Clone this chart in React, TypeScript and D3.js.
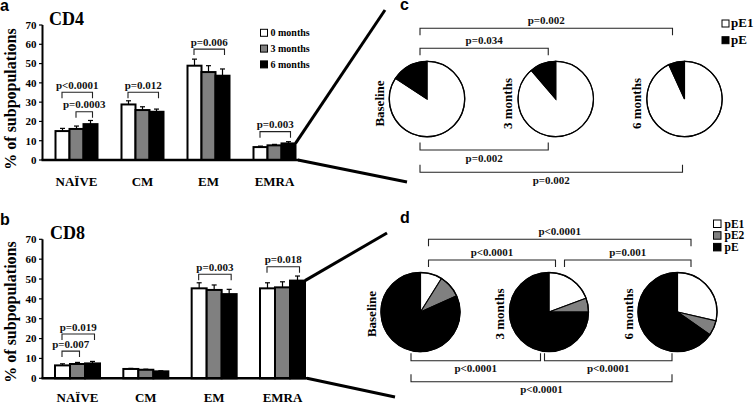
import React from "react";
import * as d3 from "d3";

// ---------- DATA ----------
const categories = ["NAÏVE", "CM", "EM", "EMRA"];
const series = ["0 months", "3 months", "6 months"];
const yTicks = [0, 10, 20, 30, 40, 50, 60, 70];

const cd4Values = [
  [15.0, 16.1, 18.6],
  [28.8, 25.9, 25.0],
  [48.9, 45.6, 43.7],
  [6.7, 7.6, 8.6],
];
const cd4Errors = [
  [1.4, 1.5, 1.9],
  [1.9, 1.7, 1.4],
  [3.4, 3.3, 3.5],
  [0.5, 0.5, 0.9],
];
const cd8Values = [
  [6.5, 7.2, 7.5],
  [4.7, 4.3, 3.5],
  [45.3, 44.5, 42.4],
  [45.3, 45.8, 49.2],
];
const cd8Errors = [
  [0.8, 0.8, 1.0],
  [0.3, 0.3, 0.3],
  [2.8, 2.5, 2.4],
  [2.8, 2.8, 2.3],
];

// significance brackets for bar panels: level in data units
const cd4Brackets = [
  { cat: 0, from: 0, to: 2, label: "p<0.0001", level: 35.1 },
  { cat: 0, from: 1, to: 2, label: "p=0.0003", level: 25.0 },
  { cat: 1, from: 0, to: 2, label: "p=0.012", level: 35.1 },
  { cat: 2, from: 0, to: 2, label: "p=0.006", level: 57.5 },
  { cat: 3, from: 0, to: 2, label: "p=0.003", level: 14.7 },
];
const cd8Brackets = [
  { cat: 0, from: 0, to: 2, label: "p=0.019", level: 22.3 },
  { cat: 0, from: 0, to: 1, label: "p=0.007", level: 13.7 },
  { cat: 2, from: 0, to: 2, label: "p=0.003", level: 52.4 },
  { cat: 3, from: 0, to: 2, label: "p=0.018", level: 56.2 },
];

const timepoints = ["Baseline", "3 months", "6 months"];
const cSeries = ["pE1", "pE"];
const cValues = [
  [84.2, 15.8],
  [88.7, 11.3],
  [93.2, 6.8],
];
const dSeries = ["pE1", "pE2", "pE"];
const dValues = [
  [8.9, 9.4, 81.7],
  [19.3, 5.7, 75.0],
  [28.6, 6.1, 65.3],
];
// pie brackets: from/to timepoint index, side, row
const cBrackets = [
  { from: 0, to: 2, label: "p=0.002", side: "top", row: 0 },
  { from: 0, to: 1, label: "p=0.034", side: "top", row: 1 },
  { from: 0, to: 1, label: "p=0.002", side: "bottom", row: 0 },
  { from: 0, to: 2, label: "p=0.002", side: "bottom", row: 1 },
];
const dBrackets = [
  { from: 0, to: 2, label: "p<0.0001", side: "top", row: 0 },
  { from: 0, to: 1, label: "p<0.0001", side: "top", row: 1 },
  { from: 1, to: 2, label: "p=0.001", side: "top", row: 1 },
  { from: 0, to: 1, label: "p<0.0001", side: "bottom", row: 0 },
  { from: 1, to: 2, label: "p<0.0001", side: "bottom", row: 0 },
  { from: 0, to: 2, label: "p<0.0001", side: "bottom", row: 1 },
];

// ---------- STYLE / LAYOUT ----------
const SERIF = "'Liberation Serif', 'Times New Roman', serif";
const SANS = "'Liberation Sans', Arial, sans-serif";
const barFills = ["#ffffff", "#808080", "#000000"];
const cFills = ["#ffffff", "#000000"];
const dFills = ["#ffffff", "#808080", "#000000"];

const layoutA = {
  y0: 160, yTop: 25, c0: 76.5, c3: 274.5, barW: 14, axisX: 42.5, baseEnd: 299,
  labelY: 186, title: "CD4", titleX: 49, titleY: 25, letter: "a", letterY: 11,
  ylabelY: 99, diagUp: [385, 10], diagDown: [407, 182],
};
const layoutB = {
  y0: 378.3, yTop: 239.3, c0: 77.5, c3: 282.5, barW: 15, axisX: 42.5, baseEnd: 308,
  labelY: 401.5, title: "CD8", titleX: 50, titleY: 239, letter: "b", letterY: 225,
  ylabelY: 312, diagUp: [387, 233], diagDown: [395, 397],
};

function Bracket({ x1, x2, y, tick, label, textY, fontSize }) {
  return (
    <g>
      <path
        d={`M${x1},${y + tick} V${y} H${x2} V${y + tick}`}
        fill="none"
        stroke="#222"
        strokeWidth={1.1}
      />
      <text
        x={(x1 + x2) / 2}
        y={textY}
        textAnchor="middle"
        fontFamily={SERIF}
        fontWeight="bold"
        fontSize={fontSize}
        fill="#111"
      >
        {label}
      </text>
    </g>
  );
}

function BarPanel({ values, errors, brackets, L }) {
  const y = d3.scaleLinear().domain([0, 70]).range([L.y0, L.yTop]);
  const xg = d3.scalePoint().domain(categories).range([L.c0, L.c3]);
  const xs = d3
    .scaleBand()
    .domain(series)
    .range([-1.5 * L.barW, 1.5 * L.barW]);
  const last = categories.length - 1;
  const lastTopRight = [
    xg(categories[last]) + xs(series[2]) + xs.bandwidth(),
    y(values[last][2]),
  ];
  return (
    <g>
      <text x={0} y={L.letterY} fontFamily={SANS} fontWeight="bold" fontSize={16}>
        {L.letter}
      </text>
      <text x={L.titleX} y={L.titleY} fontFamily={SERIF} fontWeight="bold" fontSize={18}>
        {L.title}
      </text>
      <text
        transform={`translate(10,${L.ylabelY}) rotate(-90)`}
        textAnchor="middle"
        dominantBaseline="central"
        fontFamily={SERIF}
        fontWeight="bold"
        fontSize={16}
      >
        % of subpopulations
      </text>
      {/* y axis */}
      <line x1={L.axisX} x2={L.axisX} y1={y(70)} y2={L.y0} stroke="#000" strokeWidth={2} />
      {yTicks.map((t) => (
        <g key={t}>
          <line x1={L.axisX - 3.5} x2={L.axisX} y1={y(t)} y2={y(t)} stroke="#000" strokeWidth={1.2} />
          <text
            x={L.axisX - 6}
            y={y(t)}
            dy="0.35em"
            textAnchor="end"
            fontFamily={SERIF}
            fontWeight="bold"
            fontSize={11}
          >
            {t}
          </text>
        </g>
      ))}
      {/* bars */}
      {categories.map((c, ci) => (
        <g key={c}>
          {series.map((s, si) => {
            const x0 = xg(c) + xs(s);
            const v = values[ci][si];
            const e = errors[ci][si];
            const cx = x0 + xs.bandwidth() / 2;
            return (
              <g key={s}>
                <line x1={cx} x2={cx} y1={y(v)} y2={y(v + e)} stroke="#000" strokeWidth={1.2} />
                <line x1={cx - 2.5} x2={cx + 2.5} y1={y(v + e)} y2={y(v + e)} stroke="#000" strokeWidth={1.2} />
                <rect
                  x={x0}
                  y={y(v)}
                  width={xs.bandwidth()}
                  height={L.y0 - y(v)}
                  fill={barFills[si]}
                  stroke="#000"
                  strokeWidth={2}
                />
              </g>
            );
          })}
          <text
            x={xg(c)}
            y={L.labelY}
            textAnchor="middle"
            fontFamily={SERIF}
            fontWeight="bold"
            fontSize={13}
          >
            {c}
          </text>
        </g>
      ))}
      {/* baseline */}
      <line x1={L.axisX - 1} x2={L.baseEnd} y1={L.y0} y2={L.y0} stroke="#000" strokeWidth={2.5} />
      {/* zoom connectors */}
      <line
        x1={lastTopRight[0]}
        y1={lastTopRight[1]}
        x2={L.diagUp[0]}
        y2={L.diagUp[1]}
        stroke="#000"
        strokeWidth={3}
      />
      <line
        x1={L.baseEnd - 1}
        y1={L.y0}
        x2={L.diagDown[0]}
        y2={L.diagDown[1]}
        stroke="#000"
        strokeWidth={3}
      />
      {/* brackets */}
      {brackets.map((b, i) => {
        const cx = (si) => xg(categories[b.cat]) + xs(series[si]) + xs.bandwidth() / 2;
        const by = y(b.level);
        return (
          <Bracket
            key={i}
            x1={cx(b.from) - 0.5}
            x2={cx(b.to) + 2}
            y={by}
            tick={6}
            label={b.label}
            textY={by - 3.5}
            fontSize={11}
          />
        );
      })}
    </g>
  );
}

function Legend({ items, fills, x, y0, step, box, fontSize, textDx }) {
  return (
    <g>
      {items.map((it, i) => (
        <g key={it}>
          <rect
            x={x}
            y={y0 + i * step}
            width={box}
            height={box}
            fill={fills[i]}
            stroke="#000"
            strokeWidth={1}
          />
          <text
            x={x + textDx}
            y={y0 + i * step + box}
            fontFamily={SERIF}
            fontWeight="bold"
            fontSize={fontSize}
          >
            {it}
          </text>
        </g>
      ))}
    </g>
  );
}

function PiePanel({ values, fills, brackets, P }) {
  const xp = d3.scalePoint().domain(timepoints).range(P.range);
  const pie = d3.pie<number>().sort(null).value((d) => d);
  const arc = d3.arc<any>().innerRadius(0).outerRadius(P.r);
  return (
    <g>
      <text x={P.letterX} y={P.letterY} fontFamily={SANS} fontWeight="bold" fontSize={16}>
        {P.letter}
      </text>
      {timepoints.map((t, ti) => (
        <g key={t}>
          <g transform={`translate(${xp(t)},${P.cy})`}>
            {pie(values[ti]).map((a, i) => (
              <path key={i} d={arc(a)} fill={fills[i]} stroke="#000" strokeWidth={1.1} />
            ))}
            <circle r={P.r} fill="none" stroke="#000" strokeWidth={1.3} />
          </g>
          <text
            transform={`translate(${xp(t) + P.labelDx},${P.labelY}) rotate(-90)`}
            textAnchor="middle"
            dominantBaseline="central"
            fontFamily={SERIF}
            fontWeight="bold"
            fontSize={13}
          >
            {t}
          </text>
        </g>
      ))}
      {brackets.map((b, i) => {
        const off = P.offsets[i];
        const x1 = xp(timepoints[b.from]) + off[0];
        const x2 = xp(timepoints[b.to]) + off[1];
        const top = b.side === "top";
        const by = top ? P.topRows[b.row] : P.bottomRows[b.row];
        return (
          <Bracket
            key={i}
            x1={x1}
            x2={x2}
            y={by}
            tick={top ? 7 : -7.5}
            label={b.label}
            textY={top ? by - 4 : by + 11.5}
            fontSize={P.pFont}
          />
        );
      })}
    </g>
  );
}

const layoutC = {
  range: [427, 684.5], cy: 99, r: 37.7, letter: "c", letterX: 400, letterY: 10,
  labelDx: -48, labelY: 103.5, topRows: [28.3, 48.3], bottomRows: [150, 172.3],
  offsets: [[-7, -12], [-7, -7.5], [-7, -7.5], [-7, -2]], pFont: 11,
};
const layoutD = {
  range: [420.5, 677.5], cy: 312, r: 39.5, letter: "d", letterX: 400, letterY: 223,
  labelDx: -49.5, labelY: 314, topRows: [239.3, 260], bottomRows: [360.7, 381.7],
  offsets: [[8, 13.5], [8, 6.5], [15.5, 13.5], [-9.5, -8.5], [-4.5, -5.5], [-9.5, -5.5]],
  pFont: 11,
};

export default function App() {
  return (
    <svg
      width={756}
      height={403}
      viewBox="0 0 756 403"
      style={{ position: "absolute", left: 0, top: 0, background: "#fff" }}
    >
      <rect width={756} height={403} fill="#fff" />
      <BarPanel values={cd4Values} errors={cd4Errors} brackets={cd4Brackets} L={layoutA} />
      <BarPanel values={cd8Values} errors={cd8Errors} brackets={cd8Brackets} L={layoutB} />
      <Legend items={series} fills={barFills} x={260.5} y0={29.3} step={15.8} box={7} fontSize={10} textDx={10} />
      <PiePanel values={cValues} fills={cFills} brackets={cBrackets} P={layoutC} />
      <PiePanel values={dValues} fills={dFills} brackets={dBrackets} P={layoutD} />
      <Legend items={cSeries} fills={cFills} x={722} y0={20} step={16.7} box={7} fontSize={13} textDx={9} />
      <Legend items={dSeries} fills={dFills} x={713.5} y0={220} step={11.7} box={7.5} fontSize={11.5} textDx={11} />
    </svg>
  );
}
